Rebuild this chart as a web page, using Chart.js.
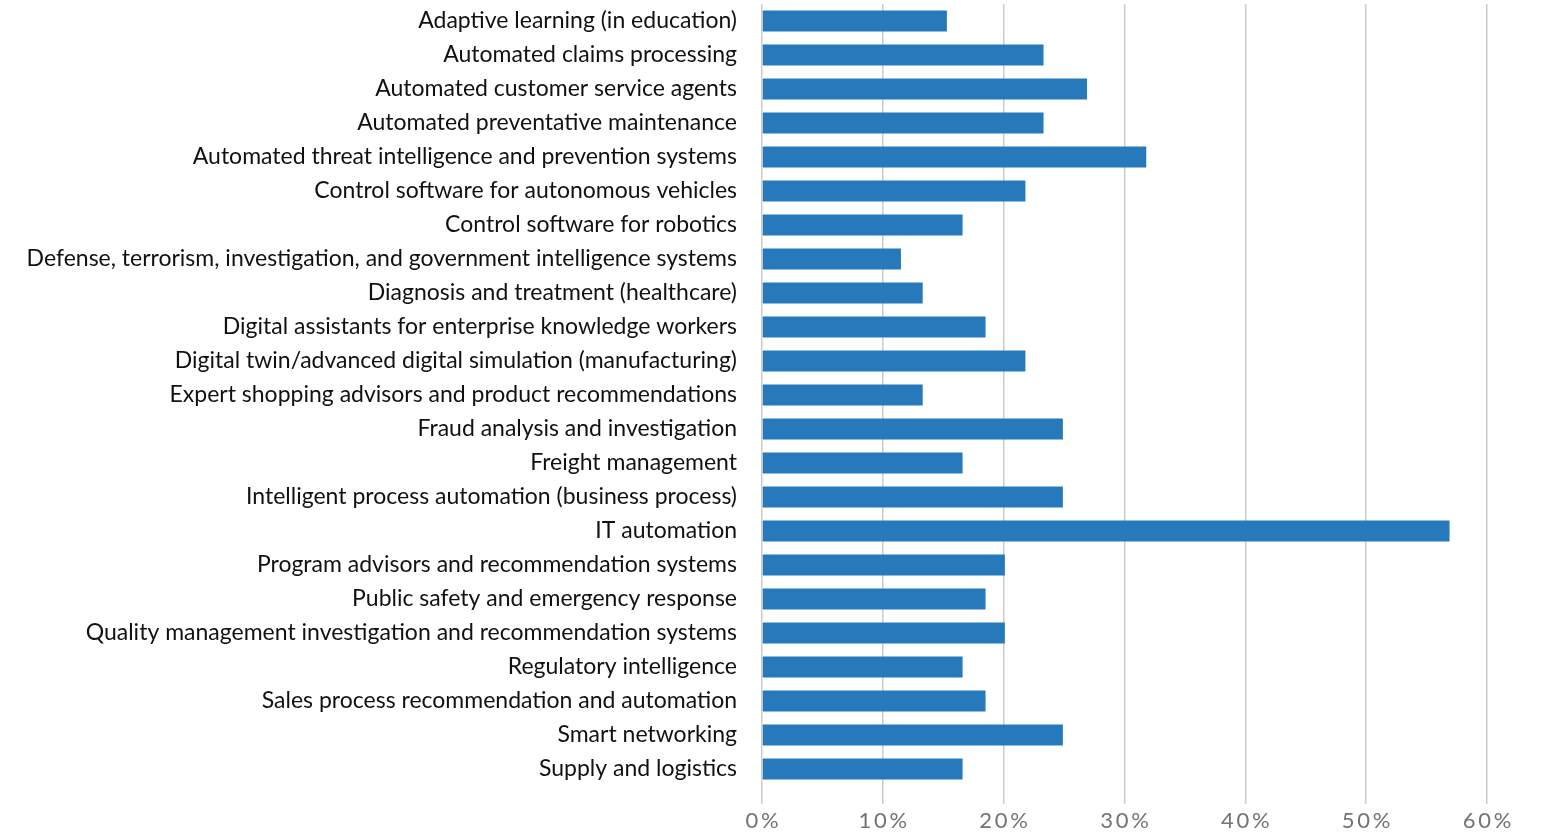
<!DOCTYPE html>
<html>
<head>
<meta charset="utf-8">
<script src="https://cdn.jsdelivr.net/npm/chart.js@4/dist/chart.umd.min.js"></script>
<style>
  html, body { margin: 0; padding: 0; background: #fff; }
  #wrap { width: 1541px; height: 832px; }
</style>
</head>
<body>
<div id="wrap"><canvas id="chart"></canvas></div>
<script>
'use strict';

const categories = [
  'Adaptive learning (in education)',
  'Automated claims processing',
  'Automated customer service agents',
  'Automated preventative maintenance',
  'Automated threat intelligence and prevention systems',
  'Control software for autonomous vehicles',
  'Control software for robotics',
  'Defense, terrorism, investigation, and government intelligence systems',
  'Diagnosis and treatment (healthcare)',
  'Digital assistants for enterprise knowledge workers',
  'Digital twin/advanced digital simulation (manufacturing)',
  'Expert shopping advisors and product recommendations',
  'Fraud analysis and investigation',
  'Freight management',
  'Intelligent process automation (business process)',
  'IT automation',
  'Program advisors and recommendation systems',
  'Public safety and emergency response',
  'Quality management investigation and recommendation systems',
  'Regulatory intelligence',
  'Sales process recommendation and automation',
  'Smart networking',
  'Supply and logistics'
];

const shares = [
  15.3, 23.3, 26.9, 23.3, 31.8, 21.8, 16.6, 11.5, 13.3, 18.5, 21.8, 13.3,
  24.9, 16.6, 24.9, 56.9, 20.1, 18.5, 20.1, 16.6, 18.5, 24.9, 16.6
];

const xTicks = [0, 10, 20, 30, 40, 50, 60];

let canvasElem = document.getElementById('chart');

const myChart = new Chart(canvasElem, {
  type: 'bar',
  data: {
    labels: categories,
    datasets: [{
      label: 'Share',
      data: shares,
      backgroundColor: '#267abb',
      borderWidth: 0,
      barPercentage: 0.9,
      categoryPercentage: 0.687
    }]
  },
  options: {
    indexAxis: 'y',
    responsive: true,
    maintainAspectRatio: false,
    animation: false,
    layout: { padding: { top: 4, right: 54, bottom: 0, left: 0 } },
    plugins: {
      legend: { display: false },
      tooltip: { enabled: false }
    },
    scales: {
      x: {
        min: 0,
        max: 60,
        afterBuildTicks: (scale) => {
          scale.ticks = xTicks.map(v => ({ value: v }));
        },
        afterFit: (scale) => {
          scale.height = 46;
        },
        grid: {
          color: '#cccccc',
          lineWidth: 1.5,
          drawTicks: true,
          tickLength: 18
        },
        border: { display: false },
        ticks: {
          color: '#737373',
          padding: 6,
          font: { family: 'Lato', size: 22, weight: '400', lineHeight: 1 },
          callback: (v) => (v + '%').split('').join('\u2009')
        }
      },
      y: {
        afterFit: (scale) => {
          scale.width = 762;
          scale.paddingTop = 0;
          scale.paddingBottom = 0;
        },
        grid: { display: false, drawTicks: false },
        border: { display: false },
        ticks: {
          color: '#111',
          padding: 25,
          autoSkip: false,
          font: { family: 'Lato', size: 23 }
        }
      }
    }
  }
});
</script>
</body>
</html>
